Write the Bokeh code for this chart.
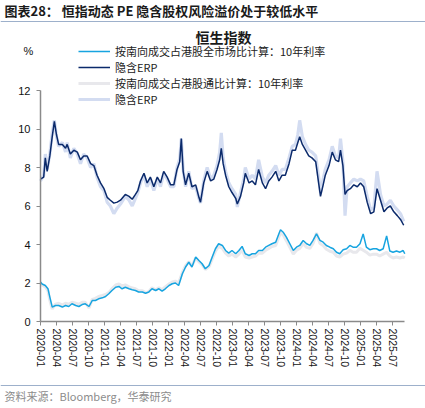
from bokeh.plotting import figure
from bokeh.models import (Range1d, FixedTicker, Label, Legend, LegendItem, Span)
from bokeh.embed import file_html
from bokeh.resources import INLINE

# ---------------- data (months since 2020-01) ----------------
erp_m = [0, 0.6, 0.9, 1.25, 1.75, 2.2, 2.6, 3.0, 3.4, 4.1, 4.7, 5.0, 5.6, 6.25, 6.9, 7.5, 8.1, 8.75, 9.4, 10.0,
         10.6, 11.25, 11.9, 12.5, 13.1, 13.75, 14.4, 15.0, 15.9, 16.6, 17.2, 17.8, 18.25, 18.75, 19.4, 20.0,
         20.6, 21.25, 21.9, 22.5, 23.1, 23.75, 24.4, 25.0, 25.6, 26.1, 26.4, 26.75, 27.2, 27.8, 28.4, 29.1,
         29.7, 30.0, 30.6, 31.25, 31.9, 32.5, 33.1, 33.6, 33.9, 34.25, 34.7, 35.3, 35.9, 36.6, 36.9, 37.5,
         38.1, 38.4, 39.1, 39.7, 40.3, 40.9, 41.6, 42.2, 42.8, 43.4, 44.1, 44.7, 45.3, 45.9, 46.6, 47.2,
         47.8, 48.25, 48.6, 49.1, 49.7, 50.3, 50.9, 51.6, 52.2, 52.5, 53.0, 53.4, 54.1, 54.7, 55.3, 55.9,
         56.25, 56.7, 57.1, 57.5, 58.1, 58.75, 59.4, 60.0, 60.6, 61.25, 61.9, 62.5, 63.1, 63.75, 64.4,
         65.0, 65.6, 66.25, 66.9, 67.5, 68.1]
erp_all = [7.4, 7.5, 8.5, 7.8, 8.6, 9.6, 10.4, 9.7, 9.2, 9.2, 9.0, 9.2, 8.7, 8.9, 8.8, 8.4, 8.6, 8.6, 8.2, 8.1,
           7.6, 7.2, 6.9, 6.45, 6.3, 6.15, 6.2, 6.3, 6.6, 6.5, 6.35, 6.6, 6.8, 7.3, 7.7, 7.2,
           7.5, 7.0, 7.5, 7.2, 7.8, 7.5, 7.1, 7.1, 7.9, 8.3, 9.5, 7.8, 7.1, 7.7, 7.0, 7.1,
           6.45, 6.2, 7.2, 7.8, 7.3, 7.4, 7.9, 8.4, 9.0, 8.2, 7.6, 7.0, 6.7, 6.4, 6.1, 6.5,
           7.2, 7.7, 7.2, 7.3, 7.1, 7.9, 7.2, 6.9, 7.3, 7.5, 7.8, 7.3, 7.6, 7.6, 8.2, 8.9,
           8.9, 9.3, 9.6, 9.2, 8.9, 8.6, 8.5, 8.3, 7.1, 6.5, 7.1, 7.6, 8.1, 8.8, 8.4, 8.3,
           8.9, 8.1, 6.6, 6.8, 6.9, 7.1, 7.0, 7.2, 7.0, 6.2, 5.6, 5.7, 6.9, 6.3, 5.7,
           5.9, 6.0, 5.7, 5.5, 5.3, 5.0]
erp_sc = [7.3, 7.6, 8.7, 7.9, 8.7, 9.8, 10.45, 9.6, 9.1, 9.3, 8.8, 9.3, 8.5, 9.0, 8.7, 8.2, 8.7, 8.5, 8.0, 8.2,
          7.5, 7.0, 6.8, 6.2, 6.0, 5.6, 5.9, 6.1, 6.5, 6.3, 6.0, 6.4, 6.7, 7.2, 7.6, 7.0,
          7.4, 6.8, 7.4, 7.0, 7.7, 7.4, 7.0, 7.0, 8.0, 8.45, 9.5, 7.9, 7.0, 7.8, 6.9, 7.0,
          6.4, 6.15, 7.3, 8.0, 7.4, 7.6, 8.1, 8.8, 9.8, 8.5, 7.8, 7.2, 6.9, 6.6, 5.95, 6.7,
          7.4, 8.0, 7.4, 7.6, 7.4, 8.4, 7.5, 7.2, 7.6, 7.8, 8.1, 7.6, 7.9, 7.9, 8.5, 9.1,
          9.2, 9.7, 10.45, 9.6, 9.2, 8.9, 8.8, 8.6, 7.4, 6.7, 7.4, 7.9, 8.4, 9.1, 8.6, 8.5,
          9.5, 8.3, 5.5, 7.0, 7.2, 7.4, 7.3, 7.4, 7.3, 6.5, 5.8, 5.9, 7.8, 6.6, 6.0,
          6.1, 6.3, 6.0, 5.8, 5.6, 5.2]

rate_m = [0, 0.3, 0.9, 1.4, 1.75, 2.2, 2.8, 3.4, 4.1, 4.7, 5.3, 5.9, 6.6, 7.2, 7.8, 8.4, 9.1, 9.7, 10.3,
          10.9, 11.6, 12.2, 12.8, 13.4, 14.1, 14.7, 15.3, 15.9, 16.6, 17.2, 17.8, 18.4, 19.1, 19.7,
          20.3, 20.9, 21.6, 22.2, 22.8, 23.4, 24.1, 24.7, 25.3, 25.9, 26.6, 27.2, 27.8, 28.4, 29.1,
          29.7, 30.3, 30.9, 31.6, 32.2, 32.8, 33.4, 34.1, 34.7, 35.3, 35.9, 36.6, 37.2, 37.8, 38.4,
          39.1, 39.7, 40.3, 40.9, 41.6, 42.2, 42.8, 43.4, 44.1, 44.7, 45.0, 45.5, 46.1, 46.75, 47.4,
          48.0, 48.6, 49.25, 49.9, 50.5, 51.1, 51.75, 52.4, 53.0, 53.6, 54.25, 54.9, 55.5, 56.1,
          56.75, 57.4, 58.0, 58.6, 59.25, 59.9, 60.5, 61.1, 61.75, 62.4, 63.0, 63.6, 64.25, 64.9,
          65.5, 66.1, 66.75, 67.4, 68.0, 68.3]
rate_all = [2.05, 1.95, 1.87, 1.7, 1.27, 0.75, 0.83, 0.83, 0.75, 0.83, 0.78, 0.92, 0.83, 0.78, 0.88, 0.92,
            0.78, 1.09, 1.09, 1.18, 1.23, 1.3, 1.44, 1.61, 1.78, 1.82, 1.7, 1.78, 1.7, 1.65, 1.61, 1.53,
            1.53, 1.47, 1.53, 1.7, 1.61, 1.7, 1.58, 1.7, 1.87, 1.96, 2.0, 1.87, 2.48, 2.83, 3.08, 2.83,
            3.35, 3.17, 3.0, 2.74, 2.91, 3.35, 3.78, 4.04, 3.95, 3.69, 3.55, 3.69, 3.52, 3.69, 3.9, 3.52,
            3.43, 3.52, 3.52, 3.69, 3.69, 3.86, 3.95, 4.04, 4.12, 4.56, 4.77, 4.64, 4.38, 4.04, 3.69,
            3.86, 3.95, 4.21, 4.04, 3.95, 4.21, 4.56, 4.21, 4.12, 3.95, 3.86, 3.78, 3.6, 3.52,
            3.73, 3.78, 3.95, 3.86, 3.86, 4.04, 4.55, 3.86, 3.73, 3.78, 3.78, 3.69, 3.78, 4.45,
            3.66, 3.6, 3.66, 3.6, 3.69, 3.52]
rate_sc = [2.0, 1.9, 1.8, 1.6, 1.1, 0.65, 0.9, 0.95, 0.85, 0.95, 0.9, 1.0, 0.95, 0.9, 1.0, 1.0,
           0.7, 1.15, 1.2, 1.3, 1.35, 1.4, 1.5, 1.7, 1.9, 1.95, 1.85, 1.9, 1.8, 1.75, 1.7, 1.6,
           1.6, 1.5, 1.55, 1.75, 1.65, 1.75, 1.65, 1.8, 1.95, 2.05, 2.1, 2.0, 2.55, 2.9, 3.1, 2.9,
           3.3, 3.1, 2.95, 2.7, 2.85, 3.25, 3.65, 3.9, 3.8, 3.55, 3.4, 3.5, 3.35, 3.5, 3.7, 3.35,
           3.3, 3.35, 3.4, 3.55, 3.55, 3.7, 3.8, 3.9, 3.95, 4.4, 4.6, 4.5, 4.2, 3.85, 3.5,
           3.7, 3.8, 4.05, 3.85, 3.8, 4.05, 4.6, 4.05, 3.95, 3.75, 3.65, 3.6, 3.4, 3.35,
           3.5, 3.55, 3.7, 3.6, 3.6, 3.8, 3.7, 3.6, 3.45, 3.5, 3.5, 3.4, 3.5, 3.6,
           3.4, 3.3, 3.35, 3.3, 3.35, 3.3]

x_tick_pos = list(range(0, 67, 3))
x_tick_labels = ["2020-01", "2020-04", "2020-07", "2020-10", "2021-01", "2021-04", "2021-07", "2021-10",
                 "2022-01", "2022-04", "2022-07", "2022-10", "2023-01", "2023-04", "2023-07", "2023-10",
                 "2024-01", "2024-04", "2024-07", "2024-10", "2025-01", "2025-04", "2025-07"]
y_ticks = [0, 2, 4, 6, 8, 10, 12]

series_names = ["按南向成交占港股全市场比计算：10年利率", "隐含ERP",
                "按南向成交占港股通比计算：10年利率", "隐含ERP"]
title_text = "图表28：  恒指动态 PE 隐含股权风险溢价处于较低水平"
chart_title = "恒生指数"
source_text = "资料来源：Bloomberg，华泰研究"

CJK = "Noto Sans CJK SC"
NUM = "Liberation Sans"

# ---------------- figure ----------------
# Frame covers the whole canvas; axes are pinned at x=0 / y=0 with bounds.
W, H = 425, 408
PX_PER_MONTH = 364 / 68.25
PX_PER_UNIT = 231 / 12.0
x0 = -40 / PX_PER_MONTH
x1 = x0 + W / PX_PER_MONTH
y1 = 321 / PX_PER_UNIT
y0 = y1 - H / PX_PER_UNIT

p = figure(width=W, height=H, output_backend="svg", toolbar_location=None, tools="",
           x_range=Range1d(x0, x1), y_range=Range1d(y0, y1),
           min_border_left=0, min_border_right=0, min_border_top=0, min_border_bottom=0)
p.background_fill_color = "white"
p.border_fill_color = "white"
p.outline_line_color = None
p.xgrid.visible = False
p.ygrid.visible = False

c_rate_all = "#17A4E0"
c_erp_all = "#0B2A6B"
c_rate_sc = "#E8E8EC"
c_erp_sc = "#D3DCF1"

r_rsc = p.line(rate_m, rate_sc, line_color=c_rate_sc, line_width=3)
r_esc = p.line(erp_m, erp_sc, line_color=c_erp_sc, line_width=3.2)
r_rall = p.line(rate_m, rate_all, line_color=c_rate_all, line_width=1.5)
r_eall = p.line(erp_m, erp_all, line_color=c_erp_all, line_width=1.5)

# axes
for ax in (p.xaxis[0], p.yaxis[0]):
    ax.fixed_location = 0
    ax.axis_line_color = "#8A8A8A"
    ax.axis_line_width = 1.5
    ax.major_tick_line_color = "#8A8A8A"
    ax.major_tick_in = 0
    ax.major_tick_out = 4
    ax.minor_tick_line_color = None
    ax.major_label_text_font = NUM
    ax.major_label_text_color = "#111111"

p.yaxis[0].bounds = (0, 12)
p.yaxis[0].ticker = FixedTicker(ticks=y_ticks)
p.yaxis[0].major_label_text_font_size = "11px"
p.yaxis[0].major_label_standoff = 6

p.xaxis[0].bounds = (0, 68.3)
p.xaxis[0].ticker = FixedTicker(ticks=x_tick_pos)
p.xaxis[0].major_label_overrides = {t: s for t, s in zip(x_tick_pos, x_tick_labels)}
p.xaxis[0].major_label_orientation = "vertical"
p.xaxis[0].major_label_text_font_size = "10.5px"
p.xaxis[0].major_label_standoff = 3

# legend (screen units from canvas bottom-left: page_x, 408 - page_y)
items = [LegendItem(label=series_names[0], renderers=[r_rall]),
         LegendItem(label=series_names[1], renderers=[r_eall]),
         LegendItem(label=series_names[2], renderers=[r_rsc]),
         LegendItem(label=series_names[3], renderers=[r_esc])]
leg = Legend(items=items, location=(78, 301), orientation="vertical",
             glyph_width=32, glyph_height=16, label_height=16, label_standoff=5,
             spacing=0, padding=0, margin=0,
             label_text_font=CJK, label_text_font_size="11px", label_text_color="#222222",
             border_line_color=None, background_fill_alpha=0)
p.add_layout(leg, "center")

labels = [
    dict(x=4, y=398, text=title_text, text_font=CJK, text_font_size="13px",
         text_font_style="bold", text_color="#1A1A1A", text_align="left"),
    # chart title, split in two halves meeting at the centre x = 223
    dict(x=223, y=372, text=chart_title[:2], text_font=CJK, text_font_size="14px",
         text_font_style="bold", text_color="#1A1A1A", text_align="right"),
    dict(x=223, y=372, text=chart_title[2:], text_font=CJK, text_font_size="14px",
         text_font_style="bold", text_color="#1A1A1A", text_align="left"),
    dict(x=28, y=358, text="%", text_font=NUM, text_font_size="11px",
         text_font_style="normal", text_color="#111111", text_align="center"),
    dict(x=4, y=13, text=source_text, text_font=CJK, text_font_size="11px",
         text_font_style="normal", text_color="#8C8C8C", text_align="left"),
]
for kw in labels:
    p.add_layout(Label(x_units="screen", y_units="screen", text_baseline="middle", **kw))

# separator lines
for yy in (387, 23):
    p.add_layout(Span(location=yy, location_units="screen", dimension="width",
                      line_color="#9DB0CB", line_width=1.2))

open("out.html", "w").write(file_html(p, INLINE))
